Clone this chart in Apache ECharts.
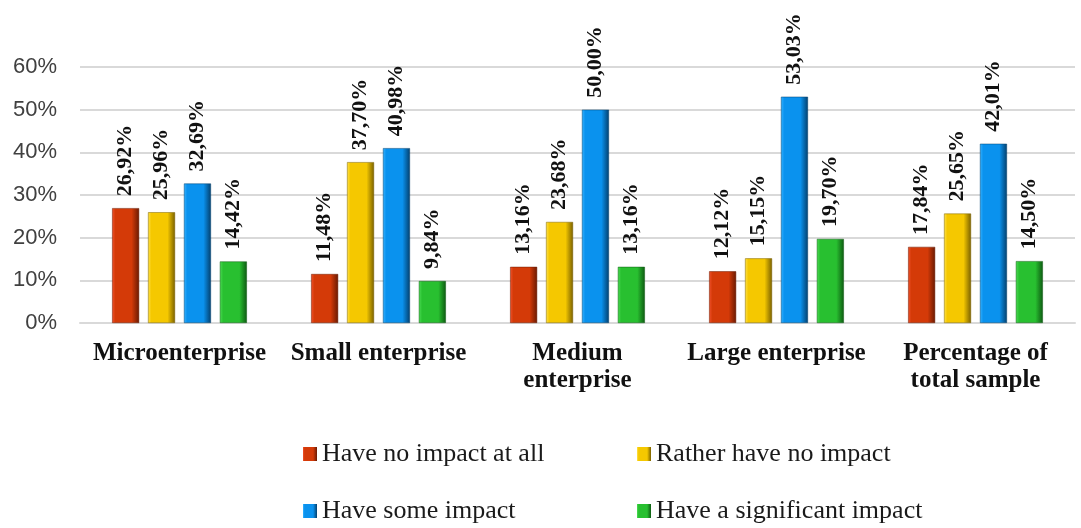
<!DOCTYPE html>
<html><head><meta charset="utf-8">
<script src="https://cdn.jsdelivr.net/npm/echarts@6/dist/echarts.min.js"></script>
<style>html,body{margin:0;padding:0;background:#fff}#c{width:1081px;height:528px}</style>
</head><body><div id="c"></div>
<script>
const categories = ['Microenterprise', 'Small enterprise', 'Medium\nenterprise', 'Large enterprise', 'Percentage of\ntotal sample'];
const seriesNames = ['Have no impact at all', 'Rather have no impact', 'Have some impact', 'Have a significant impact'];
const noImpact = [26.92, 11.48, 13.16, 12.12, 17.84];
const ratherNo = [25.96, 37.70, 23.68, 15.15, 25.65];
const someImpact = [32.69, 40.98, 50.00, 53.03, 42.01];
const significant = [14.42, 9.84, 13.16, 19.70, 14.50];
const yTicks = [0, 10, 20, 30, 40, 50, 60];

const SERIF = '"Liberation Serif", "DejaVu Serif", serif';
const SANS = '"Liberation Sans", "DejaVu Sans", sans-serif';
const palettes = [
  ['#f0502a', '#d43a08', '#6a1a02'],
  ['#ffe24a', '#f5c800', '#7a6100'],
  ['#35b2ff', '#0a92ee', '#03406e'],
  ['#4ddd55', '#28c030', '#0e5a12']
];
function grad(p) {
  return new echarts.graphic.LinearGradient(0, 0, 1, 0, [
    {offset: 0, color: p[0]}, {offset: 0.12, color: p[1]},
    {offset: 0.72, color: p[1]}, {offset: 1, color: p[2]}
  ]);
}
const values = [noImpact, ratherNo, someImpact, significant];
const chart = echarts.init(document.getElementById('c'));
const legendPos = [[298, 436], [632, 436], [298, 493], [632, 493]];
chart.setOption({
  animation: false,
  textStyle: {fontFamily: SERIF},
  grid: {left: 80, right: 6, top: 67, bottom: 205, containLabel: false},
  legend: seriesNames.map((n, i) => ({
    data: [n], left: legendPos[i][0], top: legendPos[i][1],
    itemWidth: 14, itemHeight: 14, itemGap: 6,
    icon: 'rect',
    itemStyle: {borderWidth: 0},
    textStyle: {fontFamily: SERIF, fontSize: 26, color: '#1a1a1a'}
  })),
  xAxis: {
    type: 'category', data: categories,
    axisLine: {lineStyle: {color: '#d9d9d9', width: 2}},
    axisTick: {show: false},
    axisLabel: {interval: 0, margin: 17, fontFamily: SERIF, fontWeight: 'bold', fontSize: 25, color: '#111', lineHeight: 27}
  },
  yAxis: {
    type: 'value', min: yTicks[0], max: yTicks[yTicks.length - 1], interval: 10,
    axisLine: {show: false}, axisTick: {show: false},
    splitLine: {lineStyle: {color: '#d9d9d9', width: 2}},
    axisLabel: {formatter: v => v + '%', fontFamily: SANS, fontSize: 22, color: '#404040', margin: 23}
  },
  series: seriesNames.map((n, i) => ({
    name: n, type: 'bar', data: values[i],
    barWidth: 27, barGap: '33%',
    itemStyle: {color: grad(palettes[i]), borderColor: palettes[i][2], borderWidth: 0.5},
    label: {
      show: true, position: 'top', rotate: 90, align: 'left', verticalAlign: 'middle',
      distance: 12,
      formatter: p => p.value.toFixed(2).replace('.', ',') + '%',
      fontFamily: SERIF, fontWeight: 'bold', fontSize: 22, color: '#111'
    }
  }))
});
</script></body></html>
